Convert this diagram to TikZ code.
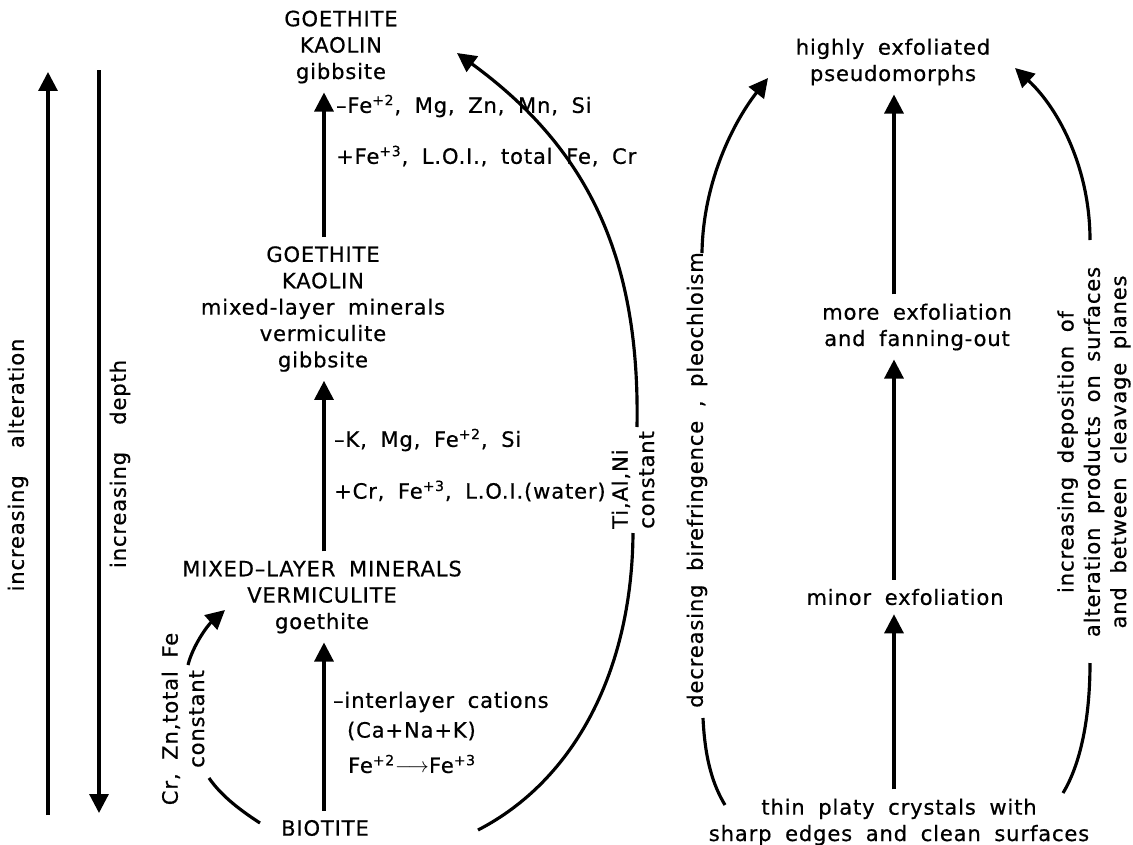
\documentclass[tikz,border=0pt]{standalone}
\usepackage{fontspec}
\setmainfont{DejaVu Sans}[LetterSpace=4,WordSpace=1.8,FakeBold=0.6]
\usetikzlibrary{positioning}
\usetikzlibrary{arrows.meta}
\usetikzlibrary{calc}

\begin{document}
\begin{tikzpicture}[x=0.02cm, y=-0.02cm,
  txt/.style={inner sep=5pt, align=center, font=\fontsize{12}{15}\selectfont},
  lbl/.style={inner sep=1pt, align=left, anchor=west, font=\fontsize{12}{15}\selectfont},
  vtxt/.style={inner sep=1pt, align=center, rotate=90, font=\fontsize{12}{15}\selectfont},
  stem/.style={line width=1.8pt},
  arr/.style={stem, -{Triangle[length=0.38cm,width=0.38cm]}}]

\useasboundingbox (0,0) rectangle (1133,845);

% axes of the two columns
\coordinate (axL) at (324,0);
\coordinate (axR) at (894,0);

% left column: alteration of biotite
\node[txt] (top1) at (341,47) {GOETHITE\\KAOLIN\\gibbsite};
\node[txt] (mid1) at (323,309) {GOETHITE\\KAOLIN\\mixed-layer minerals\\vermiculite\\gibbsite};
\node[txt] (low1) at (322,597) {MIXED–LAYER MINERALS\\VERMICULITE\\goethite};
\node[txt] (bio) at (325,828) {BIOTITE};

\draw[arr] (mid1.north -| axL) -- (top1.south -| axL);
\draw[arr] (low1.north -| axL) -- (mid1.south -| axL);
\draw[arr] (bio.north -| axL) -- (low1.south -| axL);

\node[lbl] (fe1) at (334,106) {–Fe\textsuperscript{+2}, Mg, Zn, Mn, Si};
\node[lbl] (fe2) at (334,156) {+Fe\textsuperscript{+3}, L.O.I., total Fe, Cr};
\node[lbl] (k1) at (332,440) {–K, Mg, Fe\textsuperscript{+2}, Si};
\node[lbl] (cr1) at (332,491) {+Cr, Fe\textsuperscript{+3}, L.O.I.(water)};
\node[lbl] (il1) at (331,702) {–interlayer cations};
\node[lbl] (il2) at (345,731) {(Ca+Na+K)};
\node[lbl] (il3) at (346,764) {Fe\textsuperscript{+2}$\longrightarrow$Fe\textsuperscript{+3}};

% side arrows
\node[vtxt] (alt) at (18,465) {increasing\ \ alteration};
\node[vtxt] (dep) at (120,464) {increasing\ \ depth};
\coordinate (altB) at (48,815);
\coordinate (altT) at (48,72);
\coordinate (depT) at (99,70);
\coordinate (depB) at (99,813);
\draw[arr] (altB) -- (altT);
\draw[arr] (depT) -- (depB);

% Cr, Zn arc
\node[vtxt] (crz) at (183,719) {Cr, Zn,total Fe\\constant};
\coordinate (c1) at (260,823);
\coordinate (c2) at (209,778);
\coordinate (c3) at (188,665);
\coordinate (c4) at (225,610);
\draw[stem] (c1) .. controls (243,812) and (222,797) .. (c2);
\draw[arr] (c3) .. controls (193,645) and (208,625) .. (c4);

% Ti, Al, Ni arc
\node[vtxt, align=left] (tia) at (633,480) {Ti,Al,Ni\\constant};
\coordinate (t1) at (478,830);
\coordinate (t2) at (633,533);
\coordinate (t3) at (637,427);
\coordinate (t4) at (457,53);
\draw[stem] (t1) .. controls (575,780) and (632,670) .. (t2);
\draw[arr] (t3) .. controls (640,260) and (590,150) .. (t4);

% right column: the crystals
\node[txt] (hx) at (893,62) {highly exfoliated\\pseudomorphs};
\node[txt] (mx) at (917,327) {more exfoliation\\and fanning-out};
\node[txt] (mn) at (905,597) {minor exfoliation};
\node[txt] (tp) at (899,822) {thin platy crystals with\\sharp edges and clean surfaces};

\draw[arr] (mx.north -| axR) -- (hx.south -| axR);
\draw[arr] (mn.north -| axR) -- (mx.south -| axR);
\draw[arr] (tp.north -| axR) -- (mn.south -| axR);

% birefringence arc
\node[vtxt] (bir) at (697,480) {decreasing birefringence , pleochloism};
\coordinate (b1) at (725,805);
\coordinate (b2) at (703,718);
\coordinate (b3) at (702,253);
\coordinate (b4) at (768,78);
\draw[stem] (b1) .. controls (713,785) and (705,760) .. (b2);
\draw[arr] (b3) .. controls (703,180) and (735,120) .. (b4);

% deposition arc
\node[vtxt] (dpo) at (1094,452) {increasing deposition of\\alteration products on surfaces\\and between cleavage planes};
\coordinate (d1) at (1063,793);
\coordinate (d2) at (1090,663);
\coordinate (d3) at (1090,240);
\coordinate (d4) at (1015,68);
\draw[stem] (d1) .. controls (1080,765) and (1090,720) .. (d2);
\draw[arr] (d3) .. controls (1090,170) and (1060,110) .. (d4);

\end{tikzpicture}
\end{document}
